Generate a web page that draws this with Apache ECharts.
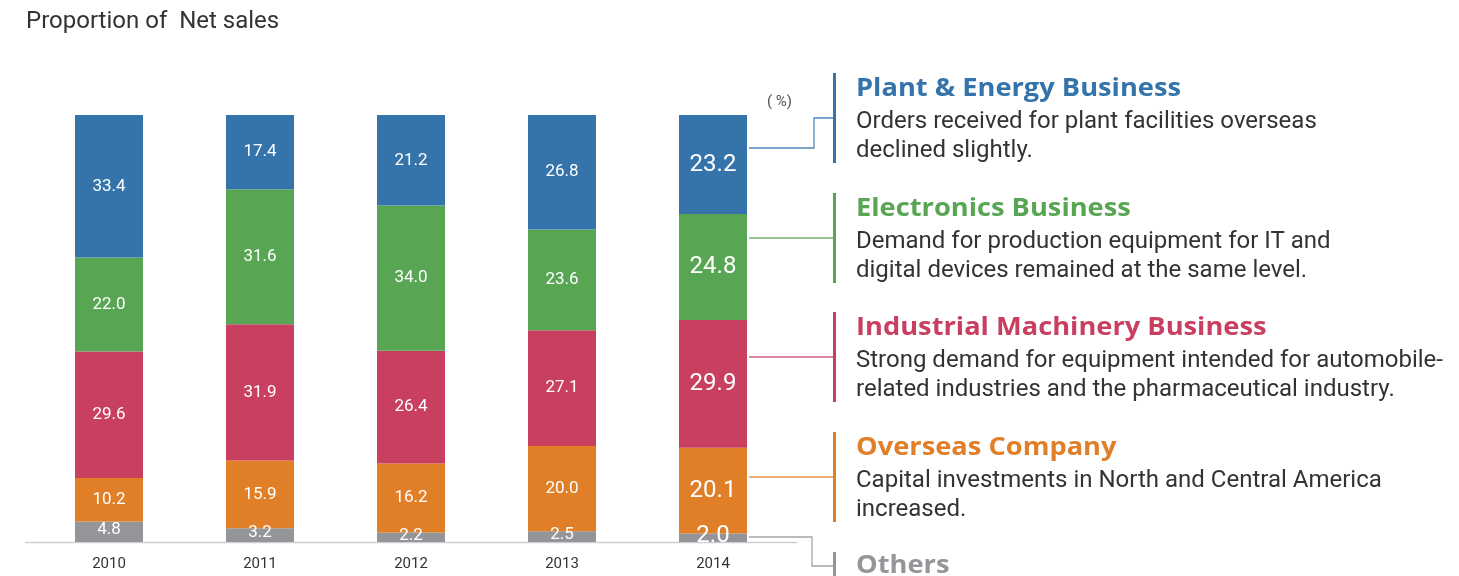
<!DOCTYPE html>
<html>
<head>
<meta charset="utf-8">
<script src="https://cdn.jsdelivr.net/npm/echarts@6/dist/echarts.min.js"></script>
<style>
  html, body { margin: 0; padding: 0; background: #fff; }
  #chart { width: 1459px; height: 576px; }
</style>
</head>
<body>
<div id="chart"></div>
<script>
// data (%), bottom to top of each stack
const years = ["2010", "2011", "2012", "2013", "2014"];
const others = [4.8, 3.2, 2.2, 2.5, 2.0];
const overseas = [10.2, 15.9, 16.2, 20.0, 20.1];
const industrial = [29.6, 31.9, 26.4, 27.1, 29.9];
const electronics = [22.0, 31.6, 34.0, 23.6, 24.8];
const plantEnergy = [33.4, 17.4, 21.2, 26.8, 23.2];

const seriesNames = ["Others", "Overseas Company", "Industrial Machinery Business", "Electronics Business", "Plant & Energy Business"];
const seriesColors = ["#939598", "#e07f27", "#c93f60", "#58a653", "#3574ab"];

const notes = [
  ["Orders received for plant facilities overseas", "declined slightly."],
  ["Demand for production equipment for IT and", "digital devices remained at the same level."],
  ["Strong demand for equipment intended for automobile-", "related industries and the pharmaceutical industry."],
  ["Capital investments in North and Central America", "increased."],
  []
];

const FONT = "Roboto";
const HEAD_FONT = "'Open Sans'";
const myChart = echarts.init(document.getElementById("chart"));

function makeData(arr) {
  // last year gets bigger label, like the original
  return arr.map((v, i) => {
    const d = { value: v };
    if (i === arr.length - 1) {
      d.label = { fontSize: 24 };
    }
    return d;
  });
}

const allData = [others, overseas, industrial, electronics, plantEnergy];

let option = {
  animation: false,
  textStyle: { fontFamily: FONT },
  grid: {
    left: 33.5,
    top: 115,
    width: 755,
    bottom: 34,
  },
  xAxis: {
    type: "category",
    data: years,
    axisLine: { show: false },
    axisTick: { show: false },
    axisLabel: {
      color: "#333",
      fontSize: 15,
      margin: 15,
      fontFamily: FONT,
    },
  },
  yAxis: {
    type: "value",
    min: 0,
    max: 100,
    show: false,
  },
  series: allData.map((arr, k) => ({
    name: seriesNames[k],
    type: "bar",
    stack: "total",
    barWidth: 68,
    itemStyle: { color: seriesColors[k] },
    label: {
      show: true,
      position: "inside",
      color: "#fff",
      fontSize: 17,
      fontFamily: FONT,
      offset: k === 0 ? [0, -2] : [0, 0],
      formatter: (p) => p.value.toFixed(1),
    },
    data: makeData(arr),
  })),
};
myChart.setOption(option);

// annotation block on the right
const barRight = myChart.convertToPixel({ xAxisIndex: 0 }, years.length - 1) + 34;
const axisY = myChart.convertToPixel({ yAxisIndex: 0 }, 0);
const lineStart = barRight + 2;

const g = [];
// title
g.push({
  type: "text", left: 26, top: 10,
  style: { text: "Proportion of  Net sales", fill: "#333", font: "24px " + FONT },
});
g.push({
  type: "text", left: 767, top: 95,
  style: { text: "( %)", fill: "#555", font: "15px " + FONT },
});
// axis line
g.push({
  type: "line",
  shape: { x1: 25, y1: axisY + 0.5, x2: 797, y2: axisY + 0.5 },
  style: { stroke: "#cfcfd1", lineWidth: 1.5 },
});

// blocks top -> bottom: plant, electronics, industrial, overseas, others
const blockTops = [73, 193, 312, 432, 552];
const blockH = 90;
const barX = 833;
for (let b = 0; b < 5; b++) {
  const k = 4 - b;
  const col = seriesColors[k];
  const top = blockTops[b];
  const h = b === 4 ? 40 : blockH;
  g.push({
    type: "rect",
    shape: { x: barX, y: top, width: 3, height: h },
    style: { fill: col },
  });
  const mid = top + blockH / 2;
  let pts;
  if (b === 0) {
    pts = [[lineStart, 148], [814, 148], [814, mid], [barX, mid]];
  } else if (b === 4) {
    pts = [[lineStart, 537], [812, 537], [812, 566], [barX, 566]];
  } else {
    pts = [[lineStart, mid], [barX, mid]];
  }
  g.push({
    type: "polyline",
    shape: { points: pts },
    style: { stroke: col, lineWidth: 1.3, fill: null, opacity: 0.85 },
  });
  g.push({
    type: "text",
    x: 856,
    y: b === 4 ? top + 1 : top + 3,
    scaleX: 1.09,
    style: { text: seriesNames[k], fill: col, font: "bold 25px " + HEAD_FONT },
  });
  if (notes[b].length) {
    g.push({
      type: "text", left: 856, top: top + 34,
      style: {
        text: notes[b].join("\n"),
        fill: "#333",
        font: "24px " + FONT,
        lineHeight: 29,
      },
    });
  }
}
myChart.setOption({ graphic: g });
</script>
</body>
</html>
